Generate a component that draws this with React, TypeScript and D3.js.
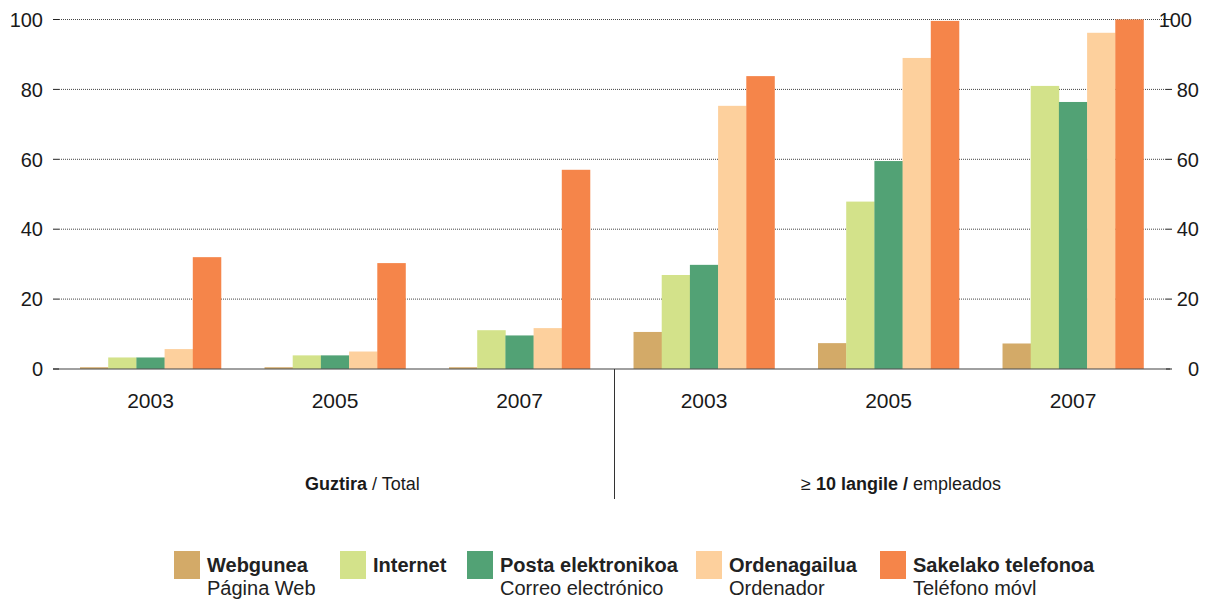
import React from "react";
import * as d3 from "d3";

const groupIds = ["t2003", "t2005", "t2007", "e2003", "e2005", "e2007"];
const groupLabels = ["2003", "2005", "2007", "2003", "2005", "2007"];
const seriesKeys = ["web", "internet", "posta", "ordenagailua", "sakelako"];
const seriesBold = ["Webgunea", "Internet", "Posta elektronikoa", "Ordenagailua", "Sakelako telefonoa"];
const seriesSub = ["Página Web", "", "Correo electrónico", "Ordenador", "Teléfono móvl"];
const seriesColors = ["#D3AA68", "#D3E28A", "#52A275", "#FDD09D", "#F5854A"];

const webValues = [0.5, 0.5, 0.5, 10.6, 7.4, 7.3];
const internetValues = [3.3, 3.9, 11.1, 26.9, 47.9, 81.0];
const postaValues = [3.3, 3.9, 9.6, 29.8, 59.5, 76.4];
const ordenagailuaValues = [5.7, 5.0, 11.7, 75.3, 89.0, 96.2];
const sakelakoValues = [32.0, 30.3, 57.0, 83.8, 99.6, 100.0];
const seriesValues = [webValues, internetValues, postaValues, ordenagailuaValues, sakelakoValues];

const yTicks = [0, 20, 40, 60, 80, 100];

const W = 1208;
const H = 599;
const FONT = "'Liberation Sans', Arial, Helvetica, sans-serif";

export default function App() {
  const y = d3.scaleLinear().domain([0, 100]).range([369, 19.5]);
  const x0 = d3.scaleBand<string>().domain(groupIds).range([58.25, 1165.25]).paddingInner(0.236).paddingOuter(0.118);
  const x1 = d3.scaleBand<string>().domain(seriesKeys).range([0, x0.bandwidth()]).padding(0);

  const axisLeft = 53;
  const axisRight = 1170;
  const legendX = [174, 340, 467, 696, 880];

  return (
    <svg width={W} height={H} style={{ position: "absolute", left: 0, top: 0, display: "block", background: "#fff" }} fontFamily={FONT}>
      {/* grid lines */}
      {yTicks.filter((t) => t > 0).map((t) => (
        <line key={"g" + t} x1={59} x2={1167} y1={y(t)} y2={y(t)} stroke="#444" strokeWidth={1} strokeDasharray="1,1" />
      ))}
      {/* bars */}
      {groupIds.map((g, gi) => (
        <g key={g} transform={`translate(${x0(g)},0)`}>
          {seriesKeys.map((s, si) => {
            const v = seriesValues[si][gi];
            return (
              <rect key={s} x={x1(s)} y={y(v)} width={x1.bandwidth() + 0.3} height={y(0) - y(v)} fill={seriesColors[si]} />
            );
          })}
        </g>
      ))}
      {/* baseline */}
      <line x1={axisLeft} x2={axisRight} y1={y(0)} y2={y(0)} stroke="#555" strokeOpacity={0.75} strokeWidth={1.6} />
      {/* ticks */}
      {yTicks.map((t) => (
        <g key={"t" + t}>
          <line x1={53} x2={59} y1={y(t)} y2={y(t)} stroke="#222" strokeWidth={1} />
          <line x1={1166} x2={1172} y1={y(t)} y2={y(t)} stroke="#222" strokeWidth={1} />
          <text x={43} y={y(t)} dy="0.36em" textAnchor="end" fontSize={20} fill="#1a1a1a">{t}</text>
          <text x={t === 100 ? 1192 : 1199} y={y(t)} dy="0.36em" textAnchor="end" fontSize={20} fill="#1a1a1a">{t}</text>
        </g>
      ))}
      {/* year labels */}
      {groupIds.map((g, gi) => (
        <text key={"l" + g} x={(x0(g) as number) + x0.bandwidth() / 2} y={408} textAnchor="middle" fontSize={21} fill="#1a1a1a">
          {groupLabels[gi]}
        </text>
      ))}
      {/* divider */}
      <line x1={614.5} x2={614.5} y1={y(0)} y2={499} stroke="#333" strokeWidth={1} />
      {/* group titles */}
      <text x={305} y={490} fontSize={18} fill="#1a1a1a">
        <tspan fontWeight="bold">Guztira</tspan>
        <tspan> / Total</tspan>
      </text>
      <text x={901} y={490} textAnchor="middle" fontSize={18} fill="#1a1a1a">
        <tspan>≥ </tspan>
        <tspan fontWeight="bold">10 langile /</tspan>
        <tspan> empleados</tspan>
      </text>
      {/* legend */}
      {seriesKeys.map((s, si) => (
        <g key={"lg" + s}>
          <rect x={legendX[si]} y={551} width={26} height={28} fill={seriesColors[si]} />
          <text x={legendX[si] + 33} y={572} fontSize={20} fontWeight="bold" fill="#222">{seriesBold[si]}</text>
          {seriesSub[si] && (
            <text x={legendX[si] + 33} y={595} fontSize={20} fill="#222">{seriesSub[si]}</text>
          )}
        </g>
      ))}
    </svg>
  );
}
